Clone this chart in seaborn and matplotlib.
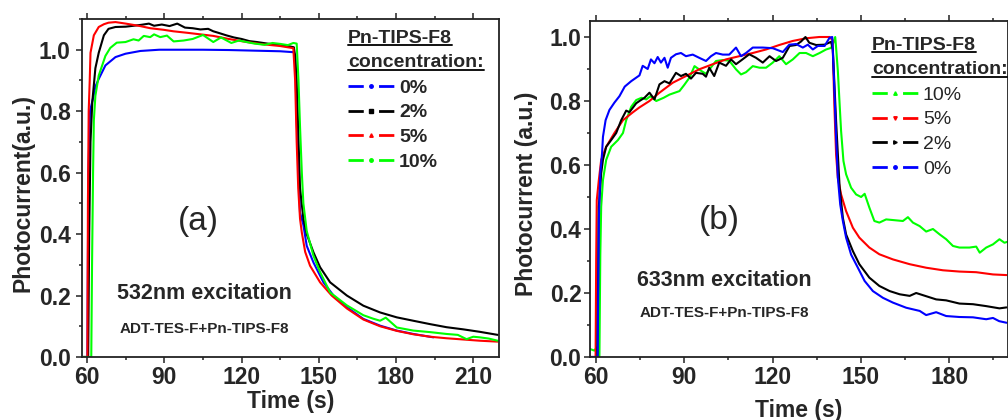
import numpy as np
import pandas as pd
import matplotlib
matplotlib.use('Agg')
import matplotlib.pyplot as plt
import seaborn as sns
from matplotlib.lines import Line2D
from matplotlib.ticker import MultipleLocator, FormatStrFormatter

# ---- panel (a): 532 nm excitation, (time s, photocurrent a.u.)
a_0 = [(58, 0), (60.1, 0), (60.2, 0.2), (60.5, 0.6), (61.1, 0.80), (62.5, 0.85), (63.2, 0.88),
       (64.5, 0.905), (67.1, 0.949), (71.0, 0.976), (74.9, 0.987), (80.7, 0.996), (88, 1.0),
       (95, 1.0), (105, 1.0), (115, 0.999), (125, 0.997), (135, 0.995), (140.2, 0.992),
       (140.8, 0.98), (141.4, 0.775), (142.1, 0.61), (142.7, 0.47), (144.0, 0.43), (145.3, 0.362),
       (147.9, 0.308), (151.8, 0.243), (155.7, 0.20), (160.9, 0.162), (167.3, 0.124),
       (173.8, 0.102), (180.3, 0.086), (186.7, 0.075), (194.5, 0.064)]
a_2 = [(58, 0), (60.4, 0), (60.8, 0.4), (61.3, 0.7), (62, 0.83), (63.2, 0.94), (64.5, 0.99),
       (66.5, 1.047), (68.3, 1.068), (71, 1.074), (75, 1.075), (78, 1.078), (81, 1.081),
       (84, 1.085), (86, 1.078), (89, 1.082), (92, 1.077), (95, 1.085), (98, 1.072), (101, 1.070),
       (104, 1.066), (107, 1.068), (109, 1.06), (111, 1.055), (114, 1.047), (117, 1.04),
       (120, 1.035), (123, 1.028), (126, 1.025), (130, 1.02), (134, 1.016), (138, 1.012),
       (140.3, 1.008), (140.8, 0.98), (141.4, 0.9), (142.7, 0.55), (144.0, 0.45), (145.3, 0.40),
       (147.9, 0.341), (150.5, 0.292), (154.4, 0.243), (160.9, 0.2), (167.3, 0.167),
       (173.8, 0.145), (180.3, 0.129), (186.7, 0.118), (193.2, 0.107), (199.6, 0.097),
       (206.1, 0.09), (212.5, 0.082), (219.5, 0.072)]
a_5 = [(58, 0), (60.1, 0), (60.3, 0.5), (60.6, 0.8), (61.0, 0.9), (61.3, 0.99), (62.6, 1.047),
       (64.5, 1.074), (66.5, 1.083), (68.3, 1.088), (71, 1.09), (75, 1.085), (80.6, 1.077),
       (84.5, 1.07), (89.6, 1.065), (93.5, 1.06), (99, 1.055), (104, 1.05), (109, 1.045),
       (115, 1.035), (122, 1.025), (128, 1.018), (135, 1.012), (140.1, 1.005), (140.8, 0.9),
       (141.4, 0.7), (142.0, 0.55), (142.7, 0.45), (143.4, 0.405), (144.7, 0.342), (146.6, 0.297),
       (150.5, 0.243), (155, 0.2), (160.9, 0.158), (167.3, 0.122), (173.8, 0.10), (180.3, 0.085),
       (186.7, 0.074), (193.2, 0.066), (199.6, 0.061), (206.1, 0.057), (212.5, 0.053),
       (219.5, 0.05)]
a_10 = [(58, 0), (61.6, 0), (61.9, 0.3), (62.3, 0.6), (62.6, 0.77), (63.2, 0.85), (64.5, 0.916),
        (67.1, 0.98), (69, 1.006), (71.5, 1.023), (74.9, 1.025), (78, 1.034), (80, 1.03),
        (82, 1.045), (84.5, 1.041), (86, 1.05), (88.4, 1.041), (91, 1.046), (93.6, 1.027),
        (97.5, 1.03), (101, 1.035), (105, 1.048), (109, 1.025), (112, 1.04), (116, 1.022),
        (119, 1.03), (122, 1.025), (125, 1.02), (129, 1.016), (132, 1.022), (135, 1.019),
        (138, 1.015), (140.1, 1.022), (141.4, 1.02), (142.1, 0.9), (142.7, 0.75), (143.4, 0.6),
        (144.0, 0.5), (145.3, 0.41), (147.9, 0.33), (150.5, 0.276), (154.4, 0.21), (160.9, 0.168),
        (167.3, 0.136), (171, 0.125), (173.8, 0.118), (176, 0.128), (180.3, 0.096), (186.7, 0.086),
        (193.2, 0.081), (199.6, 0.075), (204, 0.072), (207.4, 0.058), (210, 0.066), (212.5, 0.064),
        (216, 0.06), (219.5, 0.053)]

# ---- panel (b): 633 nm excitation
b_0 = [(58, 0), (60.6, 0), (61.0, 0.43), (61.5, 0.574), (62.1, 0.637), (62.4, 0.688), (63.3, 0.74),
       (64.6, 0.772), (66.3, 0.795), (68, 0.815), (69.8, 0.845), (72, 0.862), (74.8, 0.88),
       (75.9, 0.91), (77.6, 0.9), (78.7, 0.93), (79.9, 0.918), (81, 0.9375), (82.1, 0.92),
       (83.3, 0.935), (84.4, 0.904), (85.5, 0.935), (87.2, 0.946), (88.9, 0.95), (90.6, 0.94),
       (92.9, 0.945), (95.1, 0.935), (97.4, 0.925), (99.1, 0.94), (100.8, 0.95), (103.1, 0.945),
       (105.3, 0.945), (107.6, 0.967), (109.3, 0.94), (111, 0.95), (113.3, 0.967), (116.7, 0.967),
       (120.1, 0.965), (123.5, 0.953), (125.7, 0.976), (128, 0.978), (130.3, 0.967), (132, 0.976),
       (133.7, 0.961), (135.4, 0.972), (137.7, 0.972), (139.4, 0.998), (140.3, 1.0), (141.0, 0.84),
       (141.6, 0.685), (142.2, 0.56), (143.0, 0.477), (143.9, 0.425), (145.0, 0.373), (146.7, 0.32),
       (149.0, 0.279), (151.3, 0.2375), (154.1, 0.206), (157.5, 0.185), (160.9, 0.17),
       (165.4, 0.154), (170, 0.144), (172.2, 0.131), (175.6, 0.14), (179, 0.128), (183.5, 0.125),
       (188.1, 0.124), (192.6, 0.118), (194.9, 0.122), (197, 0.112), (199.5, 0.107)]
b_2 = [(58, 0), (60.5, 0), (61.0, 0.47), (61.8, 0.574), (62.4, 0.616), (63.5, 0.657), (65.2, 0.678),
       (66.9, 0.70), (68.6, 0.74), (70.3, 0.77), (71.4, 0.765), (73.7, 0.793), (74.8, 0.80),
       (76.5, 0.81), (78.2, 0.826), (79.9, 0.805), (81.6, 0.852), (83.3, 0.862), (85, 0.855),
       (87.2, 0.888), (88.9, 0.878), (90.6, 0.885), (92.3, 0.87), (94, 0.888), (96.3, 0.885),
       (97.4, 0.876), (98.5, 0.904), (100.2, 0.878), (101.9, 0.92), (104.2, 0.91), (105.9, 0.93),
       (107.6, 0.915), (109.8, 0.93), (112.1, 0.946), (114.4, 0.935), (116.7, 0.92), (119, 0.94),
       (121.2, 0.925), (123.5, 0.935), (125.8, 0.972), (128, 0.975), (129.7, 0.986), (131.2, 1.0),
       (132.5, 0.982), (134.8, 0.975), (137.7, 0.976), (139.9, 0.985), (140.5, 0.96),
       (141.6, 0.7375), (142.8, 0.53), (143.9, 0.435), (145.0, 0.383), (147.3, 0.331),
       (149.5, 0.29), (152.9, 0.248), (156.3, 0.222), (159.8, 0.206), (163.2, 0.196),
       (166.6, 0.191), (168.8, 0.2), (172.2, 0.19), (175.6, 0.18), (179, 0.177), (183.5, 0.167),
       (188.1, 0.165), (192.6, 0.159), (197.1, 0.152), (199.5, 0.155)]
b_5 = [(58, 0), (59.9, 0), (60.1, 0.3), (60.3, 0.49), (61.0, 0.553), (61.8, 0.616), (63.5, 0.657),
       (66.3, 0.70), (69.2, 0.74), (72.6, 0.765), (74.8, 0.78), (78.2, 0.80), (81.6, 0.826),
       (86.1, 0.857), (90.6, 0.878), (95.1, 0.899), (99.7, 0.915), (104.2, 0.93), (108.7, 0.94),
       (113.3, 0.95), (117.8, 0.961), (122.3, 0.975), (126.8, 0.9875), (131.4, 0.996),
       (135.9, 1.0), (139.4, 1.0), (140.4, 0.99), (141.0, 0.79), (141.6, 0.633), (142.2, 0.56),
       (143.3, 0.508), (145.0, 0.456), (147.3, 0.404), (149.5, 0.373), (152.9, 0.342),
       (156.3, 0.321), (160.9, 0.305), (166.6, 0.29), (172.2, 0.279), (177.9, 0.271),
       (183.5, 0.267), (189.2, 0.265), (194.9, 0.258), (199.5, 0.256)]
b_10 = [(58, 0.025), (59.5, 0.02), (60.3, 0.03), (60.8, 0.0), (61.2, 0.0), (61.5, 0.32), (61.8, 0.47),
        (62.4, 0.553), (63.5, 0.616), (65.2, 0.657), (67.5, 0.678), (69.2, 0.70), (70.3, 0.74),
        (72, 0.782), (73.7, 0.803), (75.5, 0.81), (77.1, 0.805), (78.5, 0.815), (80.5, 0.80),
        (83, 0.81), (85, 0.82), (88.4, 0.831), (90, 0.85), (91.8, 0.873), (93.5, 0.909),
        (95.8, 0.894), (97.4, 0.885), (99.1, 0.905), (100.8, 0.925), (103.1, 0.928), (105.3, 0.926),
        (107.6, 0.899), (109.3, 0.883), (111, 0.89), (113.3, 0.909), (115.6, 0.904), (117.8, 0.904),
        (120.1, 0.92), (122.3, 0.94), (124.6, 0.915), (126.9, 0.93), (129.2, 0.95), (131.4, 0.95),
        (133.7, 0.94), (136, 0.95), (138.2, 0.961), (139.9, 0.966), (140.6, 0.98), (141.3, 1.0),
        (141.6, 0.967), (142.2, 0.894), (142.8, 0.79), (143.3, 0.706), (144.1, 0.6125),
        (145, 0.571), (146.7, 0.529), (148.4, 0.508), (150.1, 0.50), (151.3, 0.51), (152.9, 0.467),
        (154.6, 0.425), (156.3, 0.42), (158.6, 0.43), (160.9, 0.428), (164.3, 0.425), (166, 0.437),
        (167.7, 0.42), (170, 0.409), (172.2, 0.392), (174.5, 0.40), (176.8, 0.383), (179, 0.368),
        (181.3, 0.347), (183.5, 0.342), (186.9, 0.342), (189.2, 0.345), (190.4, 0.326),
        (192.6, 0.342), (194.9, 0.352), (197.1, 0.368), (198.8, 0.357), (199.8, 0.36)]

labels_a = ['0%', '2%', '5%', '10%']
labels_b = ['10%', '5%', '2%', '0%']
colors = {'0%': '#0000ff', '2%': '#000000', '5%': '#ff0000', '10%': '#00ff00'}


def make_df(series):
    frames = []
    for label, pts in series.items():
        d = pd.DataFrame(pts, columns=['time', 'pc'])
        d['conc'] = label
        frames.append(d)
    return pd.concat(frames, ignore_index=True)


df_a = make_df({'0%': a_0, '2%': a_2, '5%': a_5, '10%': a_10})
df_b = make_df({'10%': b_10, '5%': b_5, '2%': b_2, '0%': b_0})

sns.set_theme(style='ticks')
plt.rcParams['font.family'] = ['Liberation Sans', 'DejaVu Sans']
plt.rcParams['font.weight'] = 'bold'

fig = plt.figure(figsize=(10.08, 4.2), dpi=100)
ax_a = fig.add_axes([82 / 1008, 63 / 420, 417 / 1008, 338 / 420])
ax_b = fig.add_axes([590 / 1008, 63 / 420, 418 / 1008, 336 / 420])

for ax, df, order in [(ax_a, df_a, labels_a), (ax_b, df_b, labels_b)]:
    sns.lineplot(data=df, x='time', y='pc', hue='conc', hue_order=order, palette=colors,
                 estimator=None, sort=False, legend=False, linewidth=1.5, ax=ax)


def style(ax, xmax, ymax, ylabel, ylab_x, xlab_y, ypad):
    ax.set_xlim(58, xmax)
    ax.set_ylim(0, ymax)
    ax.xaxis.set_major_locator(MultipleLocator(30))
    ax.xaxis.set_minor_locator(MultipleLocator(15))
    ax.yaxis.set_major_locator(MultipleLocator(0.2))
    ax.yaxis.set_minor_locator(MultipleLocator(0.1))
    ax.yaxis.set_major_formatter(FormatStrFormatter('%.1f'))
    ax.tick_params(which='both', direction='out', top=True, right=False, color='#222222', width=1.1)
    ax.tick_params(which='major', length=4, labelsize=16.5)
    ax.tick_params(axis='x', which='major', pad=2.5)
    ax.tick_params(axis='y', which='major', pad=ypad)
    ax.tick_params(which='minor', length=2.5)
    for s in ax.spines.values():
        s.set_linewidth(1.3)
        s.set_color('#222222')
    ax.set_xlabel('Time (s)', fontsize=16.5, fontweight='bold', va='center')
    ax.set_ylabel(ylabel, fontsize=16.5, fontweight='bold', va='center')
    ax.yaxis.set_label_coords(ylab_x, 0.485)
    ax.xaxis.set_label_coords(0.5, xlab_y)


style(ax_a, 220, 1.1, 'Photocurrent(a.u.)', (23 - 82) / 417, -0.133, 4.1)
style(ax_b, 200, 1.05, 'Photocurrent (a.u.)', (526 - 590) / 418, -0.158, 2.2)

ax_a.text(103.1, 0.44, '(a)', fontsize=24, fontweight='normal', ha='center', va='center')
ax_a.text(105.4, 0.208, '532nm excitation', fontsize=15.5, ha='center', va='center')
ax_a.text(105.4, 0.091, 'ADT-TES-F+Pn-TIPS-F8', fontsize=11, ha='center', va='center')
ax_b.text(102, 0.428, '(b)', fontsize=24, fontweight='normal', ha='center', va='center')
ax_b.text(103.7, 0.2375, '633nm excitation', fontsize=15.5, ha='center', va='center')
ax_b.text(103.7, 0.1375, 'ADT-TES-F+Pn-TIPS-F8', fontsize=11, ha='center', va='center')

markers_a = {'0%': 'o', '2%': 's', '5%': '^', '10%': 'o'}
markers_b = {'10%': '^', '5%': 'v', '2%': '>', '0%': 'o'}


def add_legend(ax, order, markers, x0, y_top, y_t1, y_t2, weight):
    # dash - symbol - dash, like the Origin legend
    handles = [Line2D([], [], color=colors[k], lw=2, linestyle=(0, (5.5, 5.5)),
                      marker=markers[k], markersize=2.5) for k in order]
    ax.legend(handles, order, loc='upper left', bbox_to_anchor=(x0, y_top), frameon=False,
              prop={'size': 14, 'weight': weight}, handlelength=2.36, handletextpad=0.26,
              labelspacing=0.36, borderpad=0, borderaxespad=0, numpoints=1)
    titles = []
    for yy, txt in [(y_t1, 'Pn-TIPS-F8'), (y_t2, 'concentration:')]:
        titles.append((ax.text(x0, yy, txt, transform=ax.transAxes, fontsize=14,
                               fontweight='bold', ha='left', va='baseline'), yy))
    return titles


tit_a = add_legend(ax_a, labels_a, markers_a, (348 - 82) / 417, 0.822, 0.93, 0.857, 'bold')
tit_b = add_legend(ax_b, labels_b, markers_b, (872 - 590) / 418, 0.806, 0.914, 0.842, 'normal')

# underline the legend titles
fig.canvas.draw()
renderer = fig.canvas.get_renderer()
inv = fig.transFigure.inverted()
for ax, titles in [(ax_a, tit_a), (ax_b, tit_b)]:
    for t, yy in titles:
        bb = t.get_window_extent(renderer)
        base = ax.transAxes.transform((0, yy))[1] - 2.5
        p0 = inv.transform((bb.x0, base))
        p1 = inv.transform((bb.x1, base))
        fig.add_artist(Line2D([p0[0], p1[0]], [p0[1], p1[1]], transform=fig.transFigure,
                              color='#111111', lw=1.4))

fig.savefig('out.png', dpi=100)
plt.close(fig)
